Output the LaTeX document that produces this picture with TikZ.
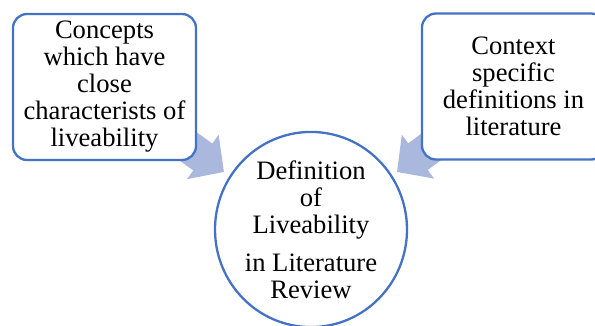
\documentclass[tikz,border=0pt]{standalone}
\usepackage{fontspec}
\setmainfont{Liberation Serif}
\usetikzlibrary{arrows.meta,shapes.geometric}
\pgfdeclarelayer{background}
\pgfsetlayers{background,main}
\definecolor{edgeblue}{RGB}{68,114,196}
\definecolor{arrowfill}{RGB}{170,184,222}
\tikzset{
  card/.style={draw=edgeblue, line width=2.3pt, fill=white, rounded corners=14pt,
    minimum width=183pt, minimum height=146pt, align=center, inner sep=0pt,
    font=\fontsize{26.6}{27}\selectfont},
  hub/.style={ellipse, draw=edgeblue, line width=2.3pt, fill=white,
    minimum width=192pt, minimum height=188pt, align=center, inner sep=0pt,
    font=\fontsize{26.6}{27}\selectfont},
  blockarrow/.style={draw=arrowfill, line width=33pt,
    -{Triangle[width=53pt,length=26pt,fill=arrowfill]}}
}
\begin{document}
\begin{tikzpicture}[x=1pt,y=-1pt]
  \useasboundingbox (0,0) rectangle (595,325);
  % source boxes and the central circle
  \node[card] (L) at (104.5,87) {Concepts\\which have\\close\\characterists of\\liveability};
  \node[card] (R) at (513.5,86.5) {Context\\specific\\definitions in\\literature};
  \node[hub] (C) at (311,229.5) {Definition\\of\\Liveability\\[11pt]in Literature\\Review};
  \coordinate (lt) at (224,172);
  \coordinate (rt) at (397,172);
  % block arrows pointing into the circle, tucked under the boxes
  \begin{pgfonlayer}{background}
    \draw[blockarrow] (L.center) -- (lt);
    \draw[blockarrow] (R.center) -- (rt);
  \end{pgfonlayer}
\end{tikzpicture}
\end{document}
